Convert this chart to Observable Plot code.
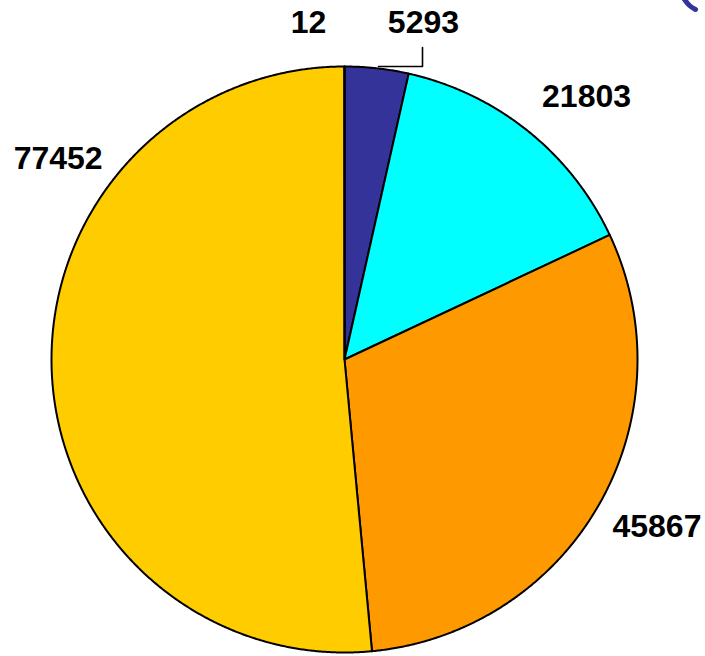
<!DOCTYPE html>
<html>
<head>
<meta charset="utf-8">
<script src="https://cdn.jsdelivr.net/npm/d3@7"></script>
<script src="https://cdn.jsdelivr.net/npm/@observablehq/plot@0.6"></script>
<style>
  html, body { margin: 0; padding: 0; background: #fff; }
  #chart svg { display: block; }
</style>
</head>
<body>
<div id="chart"></div>
<script>
// ---- data (clockwise from 12 o'clock) ----
const categories = ["A", "B", "C", "D", "E"];
const values = [5293, 21803, 45867, 77452, 12];
const labels = ["5293", "21803", "45867", "77452", "12"];
const colors = ["#333399", "#00FFFF", "#FF9900", "#FFCC00", "#993366"];

// ---- layout (label placement as polar angle in degrees / radius ratio) ----
const labelAngle = [13.2, 42.7, 118.2, 305.0, 353.9];
const labelRadius = [1.18, 1.218, 1.21, 1.193, 1.155];

const cx = 344, cy = 359, R = 293;
const W = 705, H = 656;

// pie angles
const total = d3.sum(values);
let acc = 0;
const slices = values.map((v, i) => {
  const a0 = acc / total * 2 * Math.PI;
  acc += v;
  const a1 = acc / total * 2 * Math.PI;
  return {cat: categories[i], a0, a1};
});

const polyPts = [];
slices.forEach(s => {
  polyPts.push({cat: s.cat, x: 0, y: 0});
  const n = Math.max(2, Math.ceil((s.a1 - s.a0) / 0.005));
  for (let k = 0; k <= n; k++) {
    const a = s.a0 + (s.a1 - s.a0) * k / n;
    polyPts.push({cat: s.cat, x: Math.sin(a), y: Math.cos(a)});
  }
  polyPts.push({cat: s.cat, x: 0, y: 0});
});

const labelData = labels.map((t, i) => {
  const a = labelAngle[i] * Math.PI / 180;
  return {t, x: labelRadius[i] * Math.sin(a), y: labelRadius[i] * Math.cos(a)};
});

// leader line for the 5293 label (in radius units)
const lx = (422 - cx) / R;
const leader = [
  {x: lx, y: (cy - 47) / R},
  {x: lx, y: (cy - 66) / R},
  {x: (378 - cx) / R, y: (cy - 66) / R}
];
// decoration fragment in top-right corner
const deco = [
  {x: (684 - cx) / R, y: (cy + 1) / R},
  {x: (689 - cx) / R, y: (cy - 5) / R},
  {x: (695 - cx) / R, y: (cy - 9) / R}
];

const chart = Plot.plot({
  width: W,
  height: H,
  margin: 0,
  x: {domain: [-1, 1], range: [cx - R, cx + R], axis: null},
  y: {domain: [-1, 1], range: [cy + R, cy - R], axis: null},
  color: {domain: categories, range: colors},
  style: {background: "#fff", overflow: "visible"},
  marks: [
    Plot.line(polyPts, {x: "x", y: "y", z: "cat", fill: "cat", stroke: "#000", strokeWidth: 2, strokeLinejoin: "round", curve: "linear"}),
    Plot.line(leader, {x: "x", y: "y", stroke: "#000", strokeWidth: 1.6}),
    Plot.line(deco, {x: "x", y: "y", stroke: "#333399", strokeWidth: 5, curve: "natural"}),
    Plot.text(labelData, {
      x: "x", y: "y", text: "t",
      fontSize: 32, fontWeight: "bold",
      fontFamily: "'Liberation Sans', Arial, sans-serif",
      fill: "#000", textAnchor: "middle"
    })
  ]
});
document.getElementById("chart").appendChild(chart);
</script>
</body>
</html>
